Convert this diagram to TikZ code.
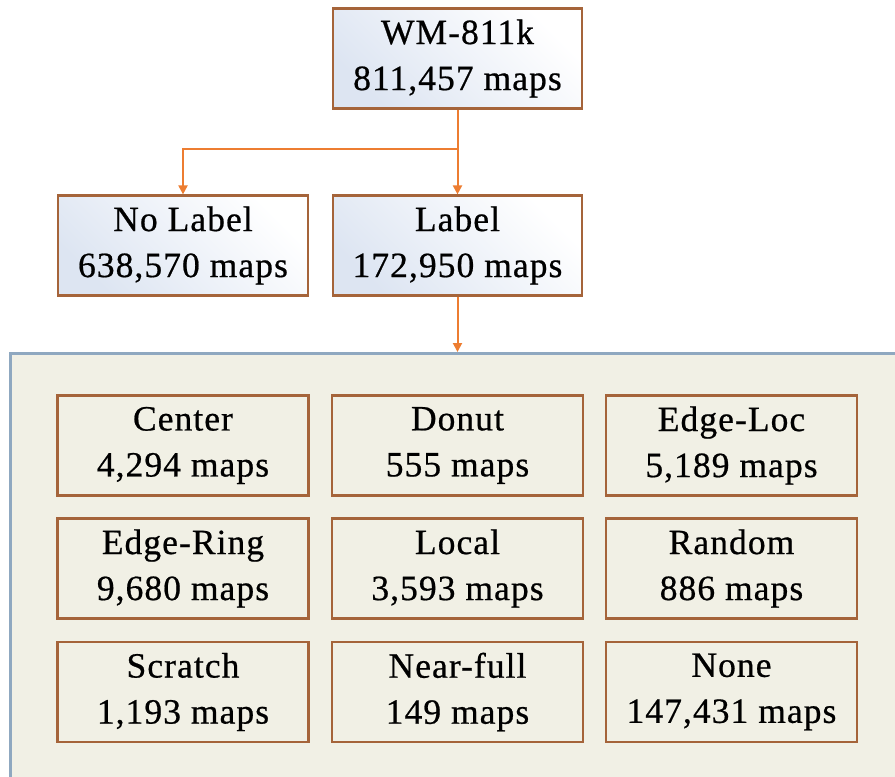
\documentclass[tikz,border=0pt]{standalone}
\usepackage{fontspec}
\setmainfont[LetterSpace=3,FakeBold=0.6]{Liberation Serif}
\usetikzlibrary{arrows.meta}
\definecolor{boxborder}{HTML}{A5643A}
\definecolor{arrowc}{HTML}{ED7D31}
\definecolor{contborder}{HTML}{8FA8C0}
\definecolor{contfill}{HTML}{F1F0E5}
\definecolor{topshade}{HTML}{DDE5F2}
\tikzset{
  txt/.style={align=center, font=\fontsize{35.5}{46}\selectfont, text=black, inner sep=0pt},
  topbox/.style={txt, draw=boxborder, line width=2.2pt, top color=topshade, bottom color=white, shading angle=135, minimum width=249pt, minimum height=100pt},
  gridbox/.style={txt, draw=boxborder, line width=2.2pt, fill=contfill, minimum width=251pt, minimum height=100pt},
  arr/.style={draw=arrowc, line width=2pt, -{Triangle[length=9pt,width=9pt]}},
  container/.style={draw=contborder, line width=3pt, fill=contfill, minimum width=900pt, minimum height=440pt, inner sep=0pt}
}
\begin{document}
\begin{tikzpicture}[x=1pt,y=-1pt]
\useasboundingbox (0,0) rectangle (895,777);
\clip (0,0) rectangle (895,777);
\fill[white] (0,0) rectangle (895,777);
\node[container, anchor=north west] (cont) at (9,352) {};
\node[topbox] (wm) at (457.5,58.5) {WM-811k\\811,457 maps};
\node[topbox, minimum width=250pt] (nolabel) at (183,245.5) {No Label\\638,570 maps};
\node[topbox] (label) at (457.5,245.5) {Label\\172,950 maps};
\coordinate (br) at (457.5,149);
\draw[arr] (wm.south) -- (label.north);
\draw[arr] (br) -| (nolabel.north);
\draw[arr] (label.south) -- (label.south |- cont.north);
\node[gridbox] (center) at (183,445.5) {Center\\4,294 maps};
\node[gridbox] (donut) at (457.5,445.5) {Donut\\555 maps};
\node[gridbox] (edgeloc) at (731.5,445.5) {Edge-Loc\\5,189 maps};
\node[gridbox] (edgering) at (183,568.5) {Edge-Ring\\9,680 maps};
\node[gridbox] (local) at (457.5,568.5) {Local\\3,593 maps};
\node[gridbox] (random) at (731.5,568.5) {Random\\886 maps};
\node[gridbox] (scratch) at (183,692) {Scratch\\1,193 maps};
\node[gridbox] (nearfull) at (457.5,692) {Near-full\\149 maps};
\node[gridbox] (none) at (731.5,692) {None\\147,431 maps};
\end{tikzpicture}
\end{document}
